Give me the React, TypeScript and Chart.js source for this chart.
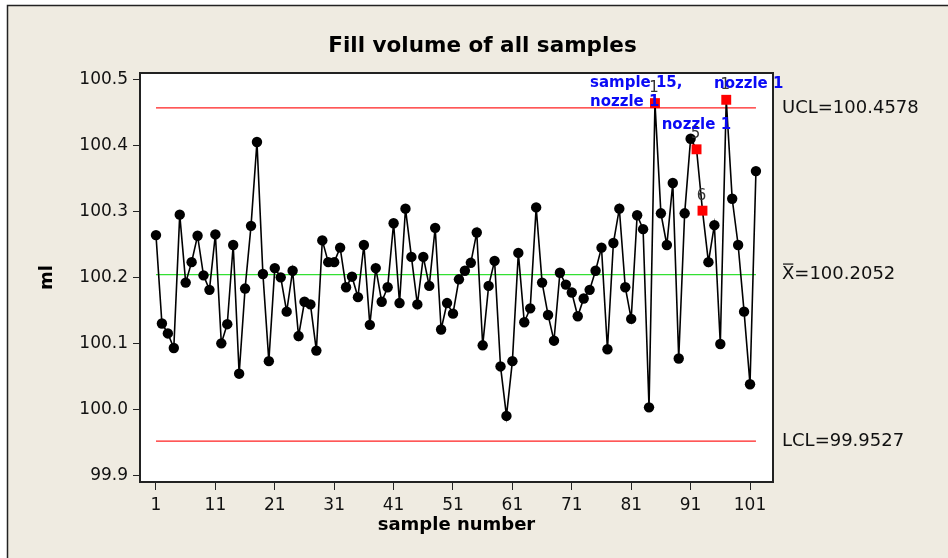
import React, { useEffect, useRef } from "react";
import { Chart, registerables } from "chart.js";
Chart.register(...registerables);

const TITLE = "Fill volume of all samples";
const X_TITLE = "sample number";
const Y_TITLE = "ml";

const FILL_VOLUMES = [
  100.265, 100.131, 100.116, 100.094, 100.296, 100.193, 100.224, 100.264, 100.204, 100.182,
  100.266, 100.101, 100.13, 100.25, 100.055, 100.184, 100.279, 100.406, 100.206, 100.074,
  100.215, 100.201, 100.149, 100.211, 100.112, 100.164, 100.16, 100.09, 100.257, 100.224,
  100.224, 100.246, 100.186, 100.202, 100.171, 100.25, 100.129, 100.215, 100.164, 100.186,
  100.283, 100.162, 100.305, 100.232, 100.16, 100.232, 100.188, 100.276, 100.122, 100.162,
  100.146, 100.198, 100.211, 100.223, 100.269, 100.098, 100.188, 100.226, 100.066, 99.991,
  100.074, 100.238, 100.133, 100.154, 100.307, 100.193, 100.144, 100.105, 100.208, 100.19,
  100.178, 100.142, 100.169, 100.182, 100.211, 100.246, 100.092, 100.253, 100.305, 100.186,
  100.138, 100.295, 100.274, 100.004, 100.465, 100.298, 100.25, 100.344, 100.078, 100.298,
  100.411, 100.395, 100.302, 100.224, 100.28, 100.1, 100.47, 100.32, 100.25, 100.149,
  100.039, 100.362,
];

const UCL = 100.4578;
const CENTER = 100.2052;
const LCL = 99.9527;

const FLAG_SAMPLES = [85, 92, 93, 97];
const FLAG_TESTS = ["1", "5", "6", "1"];

const X_TICKS = [1, 11, 21, 31, 41, 51, 61, 71, 81, 91, 101];
const Y_TICKS = [99.9, 100.0, 100.1, 100.2, 100.3, 100.4, 100.5];

// blue text notes, anchored in data coordinates (sample, ml)
const NOTE_TEXTS = ["sample 15,", "nozzle 1", "nozzle 1", "nozzle 1"];
const NOTE_X = [74.06, 74.06, 86.13, 94.94];
const NOTE_Y = [100.4955, 100.4667, 100.4318, 100.4939];

const FONT = "'DejaVu Sans', Verdana, sans-serif";
const BEIGE = "#EFEBE1";

export default function App() {
  const ref = useRef<HTMLCanvasElement | null>(null);

  useEffect(() => {
    if (!ref.current) return;
    const n = FILL_VOLUMES.length;
    const points = FILL_VOLUMES.map((v, i) => ({ x: i + 1, y: v }));
    const isFlag = (i: number) => FLAG_SAMPLES.includes(i + 1);
    const limitLine = (v: number) => [
      { x: 1, y: v },
      { x: n, y: v },
    ];

    const decor = {
      id: "decor",
      beforeDraw(chart: any) {
        const { ctx, chartArea: a, width, height } = chart;
        ctx.save();
        ctx.fillStyle = "#ffffff";
        ctx.fillRect(0, 0, width, height);
        ctx.fillStyle = BEIGE;
        ctx.fillRect(7, 5, width - 7, height - 5);
        ctx.strokeStyle = "#222";
        ctx.lineWidth = 1.5;
        ctx.beginPath();
        ctx.moveTo(7.5, height);
        ctx.lineTo(7.5, 5.5);
        ctx.lineTo(width, 5.5);
        ctx.stroke();
        ctx.fillStyle = "#ffffff";
        ctx.fillRect(a.left, a.top, a.right - a.left, a.bottom - a.top);
        ctx.restore();
      },
      afterDraw(chart: any) {
        const { ctx, chartArea: a, width } = chart;
        const xs = chart.scales.x;
        const ys = chart.scales.y;
        ctx.save();
        ctx.strokeStyle = "#222";
        ctx.lineWidth = 2;
        ctx.strokeRect(a.left, a.top, a.right - a.left, a.bottom - a.top);

        ctx.fillStyle = "#000";
        ctx.textAlign = "center";
        ctx.textBaseline = "middle";
        ctx.font = `bold 21.5px ${FONT}`;
        ctx.fillText(TITLE, (7 + width) / 2 + 5, 46);
        ctx.font = `bold 18px ${FONT}`;
        ctx.fillText(X_TITLE, (a.left + a.right) / 2, 525);
        ctx.save();
        ctx.translate(47, (a.top + a.bottom) / 2);
        ctx.rotate(-Math.PI / 2);
        ctx.fillText(Y_TITLE, 0, 0);
        ctx.restore();

        // limit labels
        ctx.font = `18px ${FONT}`;
        ctx.textAlign = "left";
        ctx.fillStyle = "#111";
        const lx = a.right + 9;
        ctx.fillText("UCL=" + UCL.toFixed(4), lx, ys.getPixelForValue(UCL));
        ctx.fillText("LCL=" + LCL.toFixed(4), lx, ys.getPixelForValue(LCL));
        const cy = ys.getPixelForValue(CENTER);
        ctx.fillText("X=" + CENTER.toFixed(4), lx, cy);
        const xw = ctx.measureText("X").width;
        ctx.strokeStyle = "#111";
        ctx.lineWidth = 1.2;
        ctx.beginPath();
        ctx.moveTo(lx + 1, cy - 10.5);
        ctx.lineTo(lx + xw - 1, cy - 10.5);
        ctx.stroke();

        // test numbers above flagged points
        ctx.font = `15px ${FONT}`;
        ctx.textAlign = "center";
        ctx.fillStyle = "#333";
        FLAG_SAMPLES.forEach((s, k) => {
          const px = xs.getPixelForValue(s);
          const py = ys.getPixelForValue(FILL_VOLUMES[s - 1]);
          ctx.fillText(FLAG_TESTS[k], px - 1, py - 15);
        });

        // blue notes
        ctx.font = `bold 15px ${FONT}`;
        ctx.textAlign = "left";
        ctx.fillStyle = "#0a0af5";
        NOTE_TEXTS.forEach((t, k) => {
          ctx.fillText(t, xs.getPixelForValue(NOTE_X[k]), ys.getPixelForValue(NOTE_Y[k]));
        });
        ctx.restore();
      },
    };

    const chart = new Chart(ref.current, {
      type: "line",
      data: {
        datasets: [
          {
            label: "ml",
            data: points,
            borderColor: "#000",
            borderWidth: 1.6,
            tension: 0,
            pointStyle: FILL_VOLUMES.map((_, i) => (isFlag(i) ? "rect" : "circle")) as any,
            pointRadius: FILL_VOLUMES.map((_, i) => (isFlag(i) ? 7 : 5.2)),
            pointBackgroundColor: FILL_VOLUMES.map((_, i) => (isFlag(i) ? "#ff0000" : "#000")),
            pointBorderWidth: 0,
            pointBorderColor: "rgba(0,0,0,0)",
            order: 0,
          },
          {
            label: "UCL",
            data: limitLine(UCL),
            borderColor: "#ff2020",
            borderWidth: 1.2,
            pointRadius: 0,
            order: 1,
          },
          {
            label: "CL",
            data: limitLine(CENTER),
            borderColor: "#33e033",
            borderWidth: 1.2,
            pointRadius: 0,
            order: 1,
          },
          {
            label: "LCL",
            data: limitLine(LCL),
            borderColor: "#ff2020",
            borderWidth: 1.2,
            pointRadius: 0,
            order: 1,
          },
        ],
      },
      options: {
        animation: false,
        responsive: false,
        layout: { padding: { top: 73, right: 175, bottom: 0, left: 0 } },
        plugins: { legend: { display: false }, tooltip: { enabled: false }, title: { display: false } },
        scales: {
          x: {
            type: "linear",
            min: -1.69,
            max: 104.87,
            afterBuildTicks: (s: any) => {
              s.ticks = X_TICKS.map((v) => ({ value: v }));
            },
            afterFit: (s: any) => {
              s.height = 76;
            },
            grid: { display: true, drawOnChartArea: false, drawTicks: true, tickLength: 8, color: "#222" },
            border: { display: true, color: "#222", width: 1 },
            ticks: {
              autoSkip: false,
              maxRotation: 0,
              padding: 5,
              color: "#111",
              font: { family: FONT, size: 17 },
              callback: (v: any) => String(v),
            },
          },
          y: {
            type: "linear",
            min: 99.8909,
            max: 100.5106,
            afterBuildTicks: (s: any) => {
              s.ticks = Y_TICKS.map((v) => ({ value: v }));
            },
            afterFit: (s: any) => {
              s.width = 140;
            },
            grid: { display: true, drawOnChartArea: false, drawTicks: true, tickLength: 7, color: "#222" },
            border: { display: true, color: "#222", width: 1 },
            ticks: {
              autoSkip: false,
              padding: 5,
              color: "#111",
              font: { family: FONT, size: 17 },
              callback: (v: any) => Number(v).toFixed(1),
            },
          },
        },
      },
      plugins: [decor],
    } as any);
    return () => chart.destroy();
  }, []);

  return (
    <div style={{ position: "fixed", left: 0, top: 0, width: 948, height: 558 }}>
      <canvas ref={ref} width={948} height={558} style={{ width: 948, height: 558, display: "block" }} />
    </div>
  );
}
